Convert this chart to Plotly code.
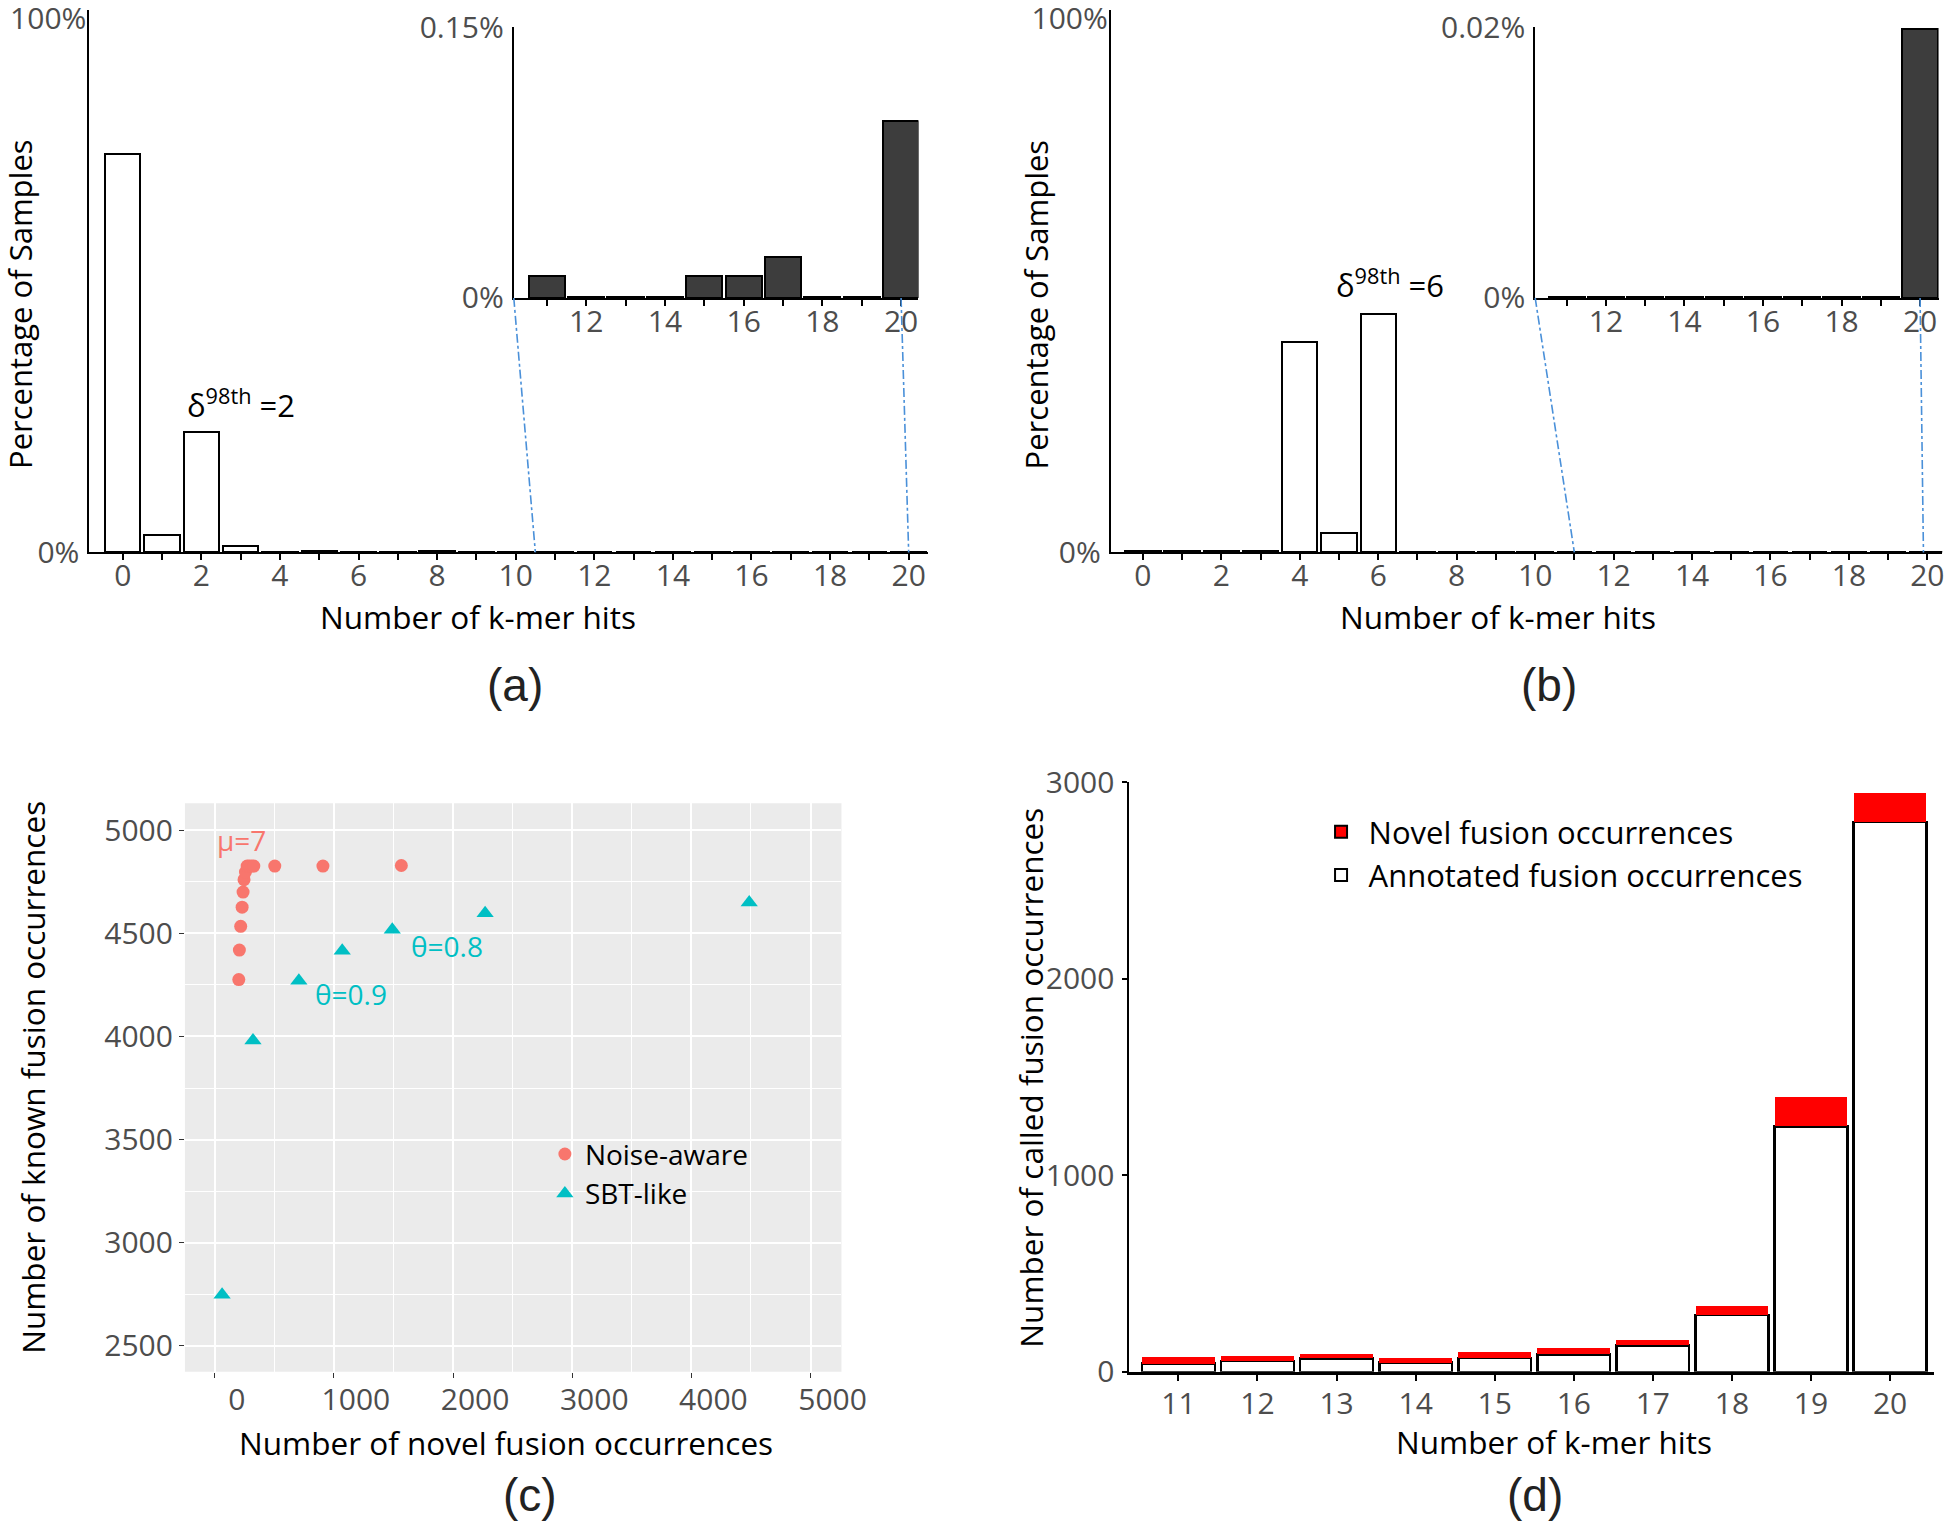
import plotly.graph_objects as go

# ---------------- data ----------------
hits_a = list(range(0, 21))
pct_a_low = [73.5, 3.2, 22.2, 1.1, 0.08, 0.3, 0.08, 0.05, 0.3, 0.05, 0.05]
hits_inset = list(range(11, 21))
pct_a_inset = [0.0119, 0.0004, 0.0004, 0.0004, 0.0123, 0.0123, 0.0225, 0.0004, 0.0004, 0.0979]
pct_a = pct_a_low + pct_a_inset

pct_b_low = [0.25, 0.25, 0.25, 0.25, 38.7, 3.6, 43.9, 0.05, 0.02, 0.05, 0.05]
pct_b_inset = [0.00005, 0.00005, 0.00005, 0.00005, 0.0001, 0.0001, 0.0001, 0.0001, 0.00005, 0.0199]
pct_b = pct_b_low + pct_b_inset

noise_x = [202, 207, 218, 230, 238, 246, 258, 272, 290, 310, 328, 504, 908, 1566]
noise_y = [4276, 4419, 4534, 4627, 4700, 4760, 4797, 4826, 4826, 4826, 4826, 4826, 4826, 4829]
sbt_x = [62, 321, 706, 1070, 1490, 2269, 4485]
sbt_y = [2748, 3981, 4270, 4416, 4517, 4598, 4649]

hits_d = list(range(11, 21))
annotated_d = [41, 54, 68, 46, 70, 88, 134, 290, 1249, 2798]
novel_d = [35, 26, 22, 24, 30, 31, 26, 43, 148, 148]

# ---------------- layout geometry ----------------
W, H = 1946, 1522
SW, SH = 1568.0, 1226.0


def px(sx):
    return sx / SW


def py(sy):
    return 1 - sy / SH


A_x_dom, A_x_rng = [px(72), px(748)], [-0.85, 20.5]
A_y_dom, A_y_rng = [py(445), py(8)], [0, 100]
AI_x_dom, AI_x_rng = [px(414), px(740)], [10.16, 20.44]
AI_y_dom, AI_y_rng = [py(240), py(22)], [0, 0.15]
B_x_dom, B_x_rng = [px(895), px(1565)], [-0.82, 20.38]
BI_x_dom, BI_x_rng = [px(1237), px(1562)], [10.2, 20.47]
BI_y_rng = [0, 0.02]
C_x_dom, C_x_rng = [px(149), px(678)], [-250, 5259]
C_y_dom, C_y_rng = [py(1105), py(647)], [2374, 5131]
D_x_dom, D_x_rng = [px(910), px(1558)], [10.38, 20.55]
D_y_dom, D_y_rng = [py(1105), py(630)], [0, 3000]

FONT = "Open Sans"
TICKC = "#4d4d4d"
FS = 30
TS = 31.5


def to_paper(v, dom, rng):
    return dom[0] + (v - rng[0]) / (rng[1] - rng[0]) * (dom[1] - dom[0])


fig = go.Figure()

# (a) main
fig.add_trace(go.Bar(x=hits_a, y=pct_a, xaxis="x", yaxis="y", width=0.9,
                     marker=dict(color="white", line=dict(color="black", width=2)),
                     showlegend=False))
# (a) inset
fig.add_trace(go.Bar(x=hits_inset, y=pct_a_inset, xaxis="x2", yaxis="y2", width=0.92,
                     marker=dict(color="#3d3d3d", line=dict(color="black", width=2)),
                     showlegend=False))
# (b) main
fig.add_trace(go.Bar(x=hits_a, y=pct_b, xaxis="x3", yaxis="y3", width=0.9,
                     marker=dict(color="white", line=dict(color="black", width=2)),
                     showlegend=False))
# (b) inset
fig.add_trace(go.Bar(x=hits_inset, y=pct_b_inset, xaxis="x4", yaxis="y4", width=0.92,
                     marker=dict(color="#3d3d3d", line=dict(color="black", width=2)),
                     showlegend=False))
# (c) scatter
fig.add_trace(go.Scatter(x=noise_x, y=noise_y, mode="markers", name="Noise-aware",
                         xaxis="x5", yaxis="y5", legend="legend",
                         marker=dict(color="#F8766D", size=13, symbol="circle")))
fig.add_trace(go.Scatter(x=sbt_x, y=sbt_y, mode="markers", name="SBT-like",
                         xaxis="x5", yaxis="y5", legend="legend",
                         marker=dict(color="#00BFC4", size=15, symbol="triangle-up")))
# (d) stacked bars
fig.add_trace(go.Bar(x=hits_d, y=annotated_d, xaxis="x6", yaxis="y6", width=0.92,
                     marker=dict(color="white", line=dict(color="black", width=2.5)),
                     showlegend=False))
fig.add_trace(go.Bar(x=hits_d, y=novel_d, xaxis="x6", yaxis="y6", width=0.92,
                     marker=dict(color="#FF0000", line=dict(color="#FF0000", width=0)),
                     showlegend=False))
# legend entries for (d)
fig.add_trace(go.Bar(x=[None], y=[None], xaxis="x6", yaxis="y6", name="Novel fusion occurrences",
                     legend="legend2",
                     marker=dict(color="#FF0000", line=dict(color="black", width=2))))
fig.add_trace(go.Bar(x=[None], y=[None], xaxis="x6", yaxis="y6", name="Annotated fusion occurrences",
                     legend="legend2",
                     marker=dict(color="white", line=dict(color="black", width=2))))
# invisible helpers so the "100%" label axes are drawn
fig.add_trace(go.Scatter(x=[None], y=[None], xaxis="x", yaxis="y7", showlegend=False,
                         hoverinfo="skip"))
fig.add_trace(go.Scatter(x=[None], y=[None], xaxis="x3", yaxis="y8", showlegend=False,
                         hoverinfo="skip"))

tickfont = dict(family=FONT, size=FS, color=TICKC)

common_hist_x = dict(ticks="outside", ticklen=6, tickwidth=1.5, tickcolor="black",
                     dtick=2,
                     minor=dict(ticks="outside", ticklen=6, tickwidth=1.5, tickcolor="black",
                                dtick=1),
                     showline=True, linecolor="black", linewidth=2, showgrid=False,
                     zeroline=False, tickfont=tickfont, fixedrange=True, automargin=False,
                     ticklabelstandoff=-10, ticklabeloverflow="allow")
common_hist_y = dict(ticks="", showline=True, linecolor="black", linewidth=2, showgrid=False,
                     zeroline=False, tickfont=tickfont, fixedrange=True, ticklabelstandoff=2,
                     automargin=False, ticklabeloverflow="allow")
top_label_y = dict(ticks="", showline=False, showgrid=False, zeroline=False,
                   tickfont=tickfont, fixedrange=True, ticklabelstandoff=2, automargin=False,
                   ticklabeloverflow="allow", ticklabelshift=9, side="left")

layout = dict(
    width=W, height=H, margin=dict(l=0, r=0, t=0, b=0, autoexpand=False),
    paper_bgcolor="white", plot_bgcolor="rgba(0,0,0,0)",
    barmode="stack", bargap=0.08,
    font=dict(family=FONT, size=FS, color="black"),
    xaxis=dict(domain=A_x_dom, range=A_x_rng, anchor="y", tick0=0, **common_hist_x),
    yaxis=dict(domain=A_y_dom, range=A_y_rng, anchor="x", tickvals=[0],
               ticktext=["0%"], **common_hist_y),
    yaxis7=dict(domain=A_y_dom, range=A_y_rng, anchor="x", overlaying="y", tickvals=[100],
                ticktext=["100%"], **top_label_y),
    xaxis2=dict(domain=AI_x_dom, range=AI_x_rng, anchor="y2", tick0=12, **common_hist_x),
    yaxis2=dict(domain=AI_y_dom, range=AI_y_rng, anchor="x2", tickvals=[0, 0.15],
                ticktext=["0%", "0.15%"], **common_hist_y),
    xaxis3=dict(domain=B_x_dom, range=B_x_rng, anchor="y3", tick0=0, **common_hist_x),
    yaxis3=dict(domain=A_y_dom, range=A_y_rng, anchor="x3", tickvals=[0],
                ticktext=["0%"], **common_hist_y),
    yaxis8=dict(domain=A_y_dom, range=A_y_rng, anchor="x3", overlaying="y3", tickvals=[100],
                ticktext=["100%"], **top_label_y),
    xaxis4=dict(domain=BI_x_dom, range=BI_x_rng, anchor="y4", tick0=12, **common_hist_x),
    yaxis4=dict(domain=AI_y_dom, range=BI_y_rng, anchor="x4", tickvals=[0, 0.02],
                ticktext=["0%", "0.02%"], **common_hist_y),
    xaxis5=dict(domain=C_x_dom, range=C_x_rng, anchor="y5", tick0=0, dtick=1000,
                showgrid=True, gridcolor="white", gridwidth=2.2, zeroline=False,
                minor=dict(dtick=500, showgrid=True, gridcolor="white", gridwidth=1),
                ticks="outside", ticklen=5, tickcolor="#333333", tickfont=tickfont,
                ticklabelshift=22, ticklabelstandoff=-4, showline=False, fixedrange=True,
                automargin=False, ticklabeloverflow="allow"),
    yaxis5=dict(domain=C_y_dom, range=C_y_rng, anchor="x5", tick0=0, dtick=500,
                showgrid=True, gridcolor="white", gridwidth=2.2, zeroline=False,
                minor=dict(dtick=250, showgrid=True, gridcolor="white", gridwidth=1),
                ticks="outside", ticklen=5, tickcolor="#333333", tickfont=tickfont,
                showline=False, fixedrange=True, automargin=False,
                ticklabeloverflow="allow"),
    xaxis6=dict(domain=D_x_dom, range=D_x_rng, anchor="y6", tickvals=hits_d,
                ticks="outside", ticklen=6, tickwidth=1.5, tickcolor="black",
                showline=True, linecolor="black", linewidth=2.5, showgrid=False,
                zeroline=False, tickfont=tickfont, fixedrange=True, automargin=False,
                ticklabelstandoff=-3, ticklabeloverflow="allow"),
    yaxis6=dict(domain=D_y_dom, range=D_y_rng, anchor="x6", tickvals=[0, 1000, 2000, 3000],
                ticks="outside", ticklen=5, tickwidth=1.5, tickcolor="black",
                showline=True, linecolor="black", linewidth=2, showgrid=False,
                zeroline=False, tickfont=tickfont, fixedrange=True, ticklabelstandoff=2,
                automargin=False, ticklabeloverflow="allow"),
    legend=dict(x=0.280, y=0.258, xanchor="left", yanchor="top", bgcolor="rgba(0,0,0,0)",
                font=dict(family=FONT, size=28, color="black"), tracegroupgap=0,
                traceorder="normal"),
    legend2=dict(x=0.675, y=0.471, xanchor="left", yanchor="top", bgcolor="rgba(0,0,0,0)",
                 font=dict(family=FONT, size=31, color="black"), tracegroupgap=0,
                 traceorder="normal", itemwidth=45),
)
fig.update_layout(**layout)

# grey panel background for (c)
fig.add_shape(type="rect", xref="x5 domain", yref="y5 domain", x0=0, x1=1, y0=0, y1=1,
              fillcolor="#EBEBEB", line=dict(width=0), layer="below")

# connector lines (dash-dot) from insets to main axes
conn = dict(color="#4A90D9", width=1.6, dash="dashdot")
fig.add_shape(type="line", xref="paper", yref="paper",
              x0=AI_x_dom[0], y0=AI_y_dom[0],
              x1=to_paper(10.5, A_x_dom, A_x_rng), y1=A_y_dom[0], line=conn)
fig.add_shape(type="line", xref="paper", yref="paper",
              x0=to_paper(20, AI_x_dom, AI_x_rng), y0=AI_y_dom[0],
              x1=to_paper(20, A_x_dom, A_x_rng), y1=A_y_dom[0], line=conn)
fig.add_shape(type="line", xref="paper", yref="paper",
              x0=BI_x_dom[0], y0=AI_y_dom[0],
              x1=to_paper(11, B_x_dom, B_x_rng), y1=A_y_dom[0], line=conn)
fig.add_shape(type="line", xref="paper", yref="paper",
              x0=to_paper(20, BI_x_dom, BI_x_rng), y0=AI_y_dom[0],
              x1=to_paper(19.9, B_x_dom, B_x_rng), y1=A_y_dom[0], line=conn)

ann = []


def title(text, sx, sy, angle=0, size=TS, family=FONT, color="black"):
    ann.append(dict(text=text, x=px(sx), y=py(sy), xref="paper", yref="paper",
                    showarrow=False, textangle=angle, xanchor="center", yanchor="middle",
                    font=dict(family=family, size=size, color=color)))


title("Percentage of Samples", 16, 245, -90, size=31)
title("Number of k-mer hits", 385, 497)
title("(a)", 415, 552, size=46, family="Liberation Sans", color="#222222")
title("Percentage of Samples", 835, 245, -90, size=31)
title("Number of k-mer hits", 1207, 497)
title("(b)", 1248, 552, size=46, family="Liberation Sans", color="#222222")
title("δ<sup>98th</sup> =2", 194, 325, size=31)
title("δ<sup>98th</sup> =6", 1120, 228, size=31)
title("Number of known fusion occurrences", 26, 868, -90)
title("Number of novel fusion occurrences", 408, 1162)
title("(c)", 427, 1204, size=46, family="Liberation Sans", color="#222222")
title("Number of called fusion occurrences", 830, 868, -90)
title("Number of k-mer hits", 1252, 1161)
title("(d)", 1237, 1204, size=46, family="Liberation Sans", color="#222222")

# in-plot labels for (c)
ann.append(dict(text="μ=7", x=227, y=4951, xref="x5", yref="y5", showarrow=False,
                font=dict(family=FONT, size=28, color="#F8766D")))
ann.append(dict(text="θ=0.9", x=1140, y=4206, xref="x5", yref="y5", showarrow=False,
                font=dict(family=FONT, size=28, color="#00BFC4")))
ann.append(dict(text="θ=0.8", x=1950, y=4437, xref="x5", yref="y5", showarrow=False,
                font=dict(family=FONT, size=28, color="#00BFC4")))

fig.update_layout(annotations=ann)

fig.write_html("out.html", config=dict(displayModeBar=False),
               post_script="document.body.style.margin='0';")
